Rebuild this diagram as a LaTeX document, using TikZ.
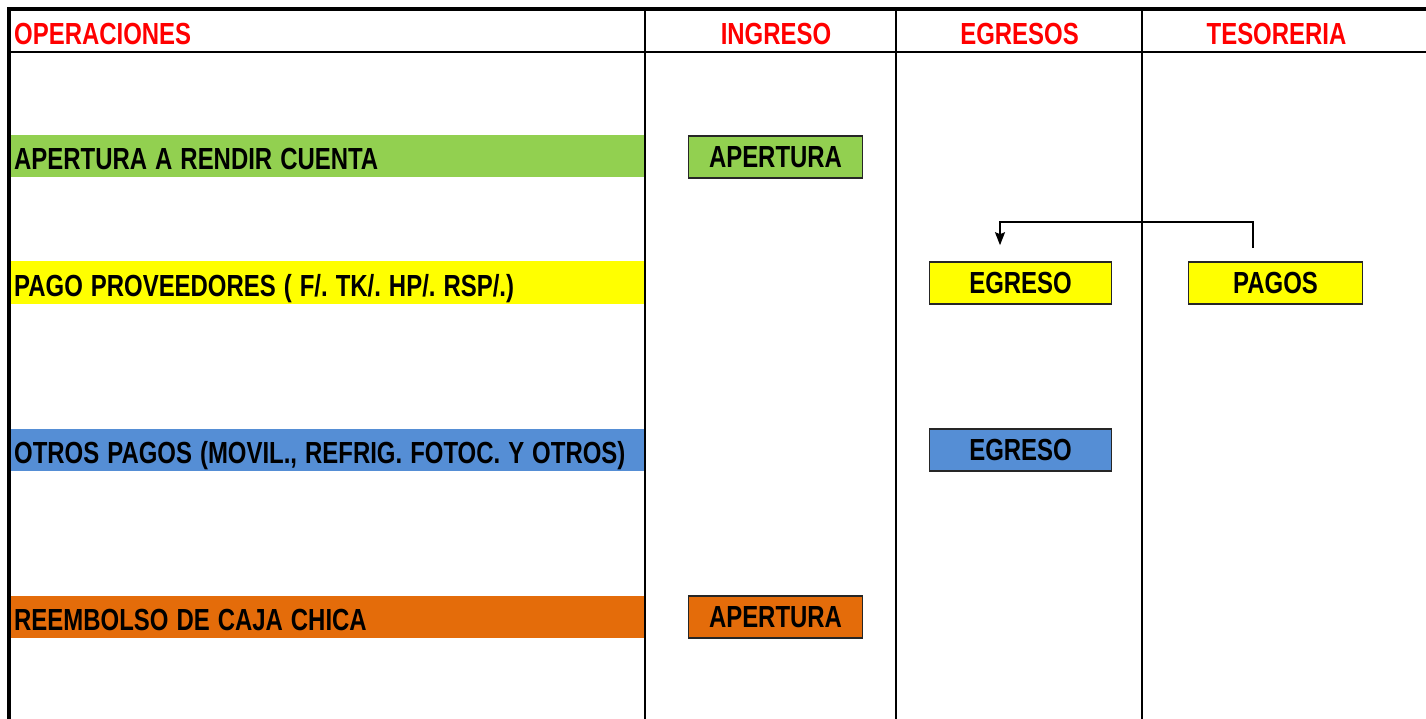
\documentclass[tikz,border=0pt]{standalone}
\usepackage{fontspec}
\usetikzlibrary{arrows.meta}
\newfontfamily\af{Liberation Sans}[FakeStretch=0.785]
\newcommand\txtfont{\af\bfseries\fontsize{30.5}{36}\selectfont}
\newcommand\tightsp{\spaceskip=8pt plus 0pt minus 0pt\xspaceskip=8pt\relax}
\definecolor{cgreen}{HTML}{92D050}
\definecolor{cyellow}{HTML}{FFFF00}
\definecolor{cblue}{HTML}{558ED5}
\definecolor{corange}{HTML}{E46C0A}
\definecolor{cred}{HTML}{FF0000}
\tikzset{
  txt/.style={font=\txtfont},
  head/.style={txt, text=cred, inner sep=0pt, anchor=base},
  bar/.style={minimum width=635pt, minimum height=42pt, inner sep=0pt, anchor=west},
  bartext/.style={txt, anchor=base west, inner sep=0pt},
  box/.style={txt, draw=black!85, line width=1.6pt, minimum width=174pt, minimum height=42pt, inner sep=0pt},
  grid/.style={line width=1.8pt},
  flow/.style={line width=1.5pt, -{Stealth[length=13pt,width=10pt,inset=2pt]}}
}
\begin{document}
\begin{tikzpicture}[x=1pt,y=-1pt]
\useasboundingbox[fill=white] (0,0) rectangle (1426,719);
% bars
\node[bar, fill=cgreen] (op1) at (10,156) {};
\node[bar, fill=cyellow] (op2) at (10,282.5) {};
\node[bar, fill=cblue] (op3) at (10,449.5) {};
\node[bar, fill=corange] (op4) at (10,616.5) {};
\node[bartext] (t1) at (14,170) {\tightsp APERTURA A RENDIR CUENTA};
\node[bartext] (t2) at (14,296.5) {\tightsp PAGO PROVEEDORES ( F/. TK/. HP/. RSP/.)};
\node[bartext] (t3) at (14,463.5) {\tightsp OTROS PAGOS (MOVIL., REFRIG. FOTOC. Y OTROS)};
\node[bartext] (t4) at (14,630.5) {\tightsp REEMBOLSO DE CAJA CHICA};
% grid
\draw[line width=4pt] (9,719) -- (9,9) -- (1426,9);
\draw[grid] (9,52) -- (1426,52);
\draw[grid] (645,9) -- (645,719);
\draw[grid] (896,9) -- (896,719);
\draw[grid] (1142,9) -- (1142,719);
% headers
\node[head, anchor=base west] (h1) at (14,45) {OPERACIONES};
\node[head] (h2) at (776,45) {INGRESO};
\node[head] (h3) at (1019.5,45) {EGRESOS};
\node[head] (h4) at (1276.5,45) {TESORERIA};
% boxes
\node[box, fill=cgreen] (ap1) at (775.5,157) {APERTURA};
\node[box, fill=cyellow, minimum width=182pt] (eg1) at (1020.5,283) {EGRESO};
\node[box, fill=cyellow] (pag) at (1275.5,283) {PAGOS};
\node[box, fill=cblue, minimum width=182pt] (eg2) at (1020.5,450) {EGRESO};
\node[box, fill=corange] (ap2) at (775.5,617) {APERTURA};
% arrow
\coordinate (turn) at (0,222);
\draw[flow] ([xshift=-22.5pt,yshift=13pt]pag.north) -- ([xshift=-22.5pt]pag.north |- turn) -| ([xshift=-20.5pt,yshift=16pt]eg1.north);
\end{tikzpicture}
\end{document}
